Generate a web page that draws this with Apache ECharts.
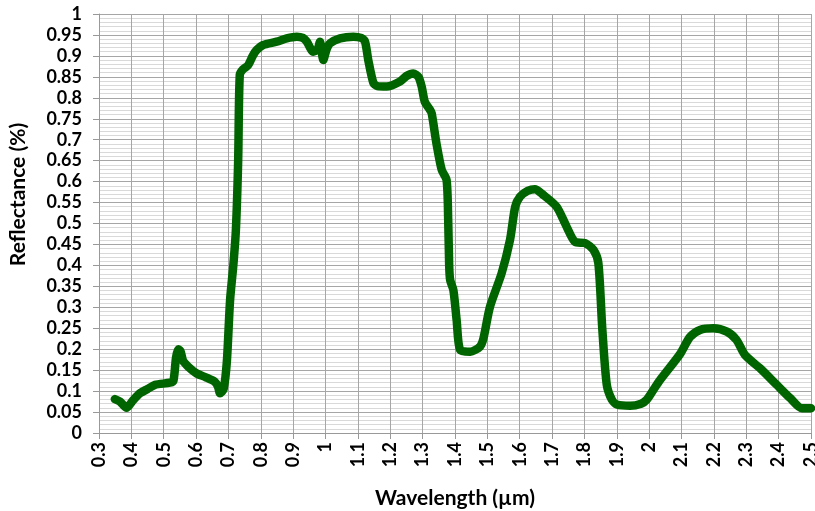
<!DOCTYPE html>
<html><head><meta charset="utf-8">
<script src="https://cdn.jsdelivr.net/npm/echarts@6/dist/echarts.min.js"></script>
<style>html,body{margin:0;padding:0;background:#fff}#c{width:815px;height:511px}</style>
</head><body><div id="c"></div>
<script>
const wavelength = [0.349,0.365,0.385,0.405,0.427,0.45,0.473,0.519,0.53,0.538,0.545,0.552,0.56,0.576,0.602,0.63,0.658,0.668,0.674,0.685,0.695,0.705,0.715,0.723,0.73,0.735,0.745,0.761,0.775,0.787,0.807,0.849,0.88,0.911,0.93,0.942,0.962,0.975,0.983,0.993,1.003,1.014,1.045,1.086,1.11,1.122,1.132,1.148,1.16,1.189,1.23,1.25,1.271,1.287,1.297,1.307,1.323,1.328,1.343,1.359,1.374,1.379,1.382,1.385,1.395,1.405,1.416,1.447,1.477,1.488,1.508,1.544,1.57,1.586,1.601,1.625,1.647,1.67,1.714,1.745,1.771,1.802,1.828,1.843,1.855,1.869,1.885,1.9,1.941,1.975,1.992,2.013,2.033,2.095,2.126,2.157,2.198,2.24,2.27,2.296,2.343,2.394,2.436,2.472,2.5];
const reflectance = [0.081,0.075,0.06,0.078,0.095,0.105,0.115,0.12,0.125,0.18,0.2,0.195,0.172,0.158,0.142,0.133,0.122,0.11,0.095,0.105,0.17,0.317,0.4,0.485,0.65,0.855,0.868,0.878,0.9,0.914,0.926,0.934,0.942,0.946,0.943,0.934,0.91,0.915,0.934,0.89,0.915,0.93,0.942,0.946,0.943,0.934,0.89,0.835,0.828,0.827,0.839,0.852,0.858,0.85,0.827,0.79,0.771,0.763,0.69,0.628,0.604,0.508,0.4,0.365,0.341,0.27,0.198,0.194,0.206,0.226,0.301,0.381,0.461,0.54,0.564,0.578,0.582,0.57,0.54,0.492,0.456,0.453,0.437,0.405,0.25,0.115,0.079,0.068,0.065,0.07,0.079,0.103,0.126,0.188,0.229,0.246,0.25,0.242,0.222,0.186,0.154,0.115,0.083,0.059,0.059];
const xTitle = 'Wavelength (µm)';
const yTitle = 'Reflectance (%)';

const chart = echarts.init(document.getElementById('c'), null, {renderer: 'canvas'});
const fmt = v => String(parseFloat(v.toFixed(2)));
const labelFont = {fontFamily: 'Lato', fontWeight: 'bold', fontSize: 18, color: '#000'};
chart.setOption({
  animation: false,
  grid: {left: 99, right: 4, top: 14, bottom: 78, containLabel: false, outerBoundsMode: 'none'},
  xAxis: {
    type: 'value', min: 0.3, max: 2.5, interval: 0.1,
    name: xTitle, nameLocation: 'middle', nameGap: 55,
    nameTextStyle: {fontFamily: 'Lato', fontWeight: 'bold', fontSize: 21, color: '#000'},
    axisLine: {show: true, lineStyle: {color: '#999', width: 1}},
    axisTick: {show: true, length: 6, lineStyle: {color: '#999'}},
    axisLabel: Object.assign({rotate: 90, margin: 9, formatter: fmt, hideOverlap: false}, labelFont),
    splitLine: {show: true, lineStyle: {color: '#a6a6a6', width: 1}}
  },
  yAxis: {
    type: 'value', min: 0, max: 1, interval: 0.05,
    name: yTitle, nameLocation: 'middle', nameGap: 70,
    nameTextStyle: {fontFamily: 'Lato', fontWeight: 'bold', fontSize: 21, color: '#000', padding: [0, 0, 0, 58]},
    axisLine: {show: true, lineStyle: {color: '#999', width: 1}},
    axisTick: {show: true, length: 6, lineStyle: {color: '#999'}},
    axisLabel: Object.assign({margin: 17, formatter: fmt}, labelFont),
    splitLine: {show: true, lineStyle: {color: '#a6a6a6', width: 1}},
    minorTick: {show: false, splitNumber: 5},
    minorSplitLine: {show: true, lineStyle: {color: '#d9d9d9', width: 1}}
  },
  series: [{
    type: 'line',
    data: wavelength.map((w, i) => [w, reflectance[i]]),
    showSymbol: false,
    smooth: 0.25,
    lineStyle: {color: '#006400', width: 8.5, cap: 'round', join: 'round'}
  }]
});
</script></body></html>
